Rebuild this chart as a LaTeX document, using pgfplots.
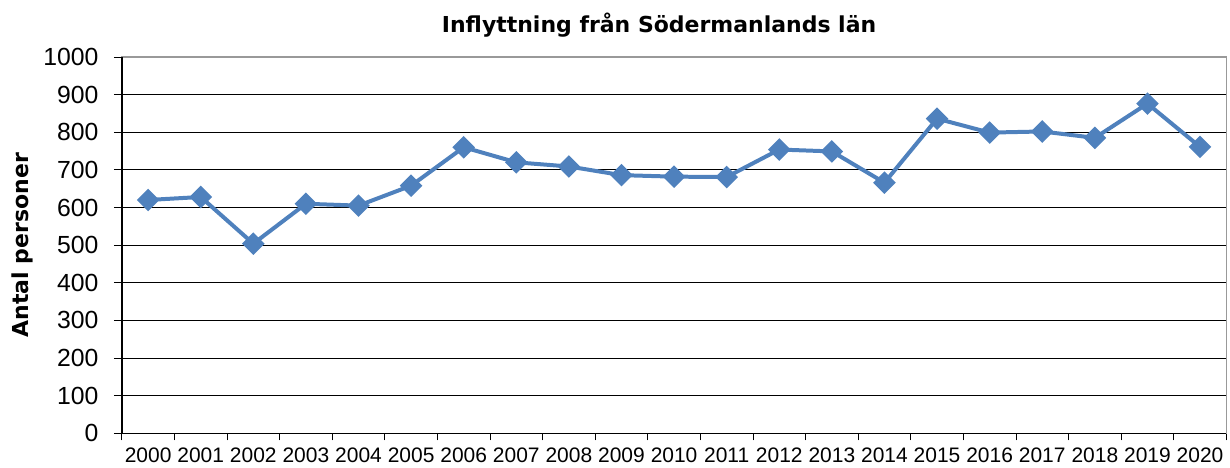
\documentclass[border=0pt]{standalone}
\usepackage{pgfplots}
\pgfplotsset{compat=1.18}
\usepackage{fontspec}
\setmainfont{Liberation Sans}
\newfontfamily\titlefont{DejaVu Sans}
\definecolor{exblue}{RGB}{79,129,189}
\begin{document}
\begin{tikzpicture}
\begin{axis}[
  scale only axis,
  width=553pt, height=188.5pt,
  xmin=-0.5, xmax=20.5,
  ymin=0, ymax=1000,
  ytick={0,100,...,1000},
  xtick={0,...,20},
  xticklabels={2000,2001,2002,2003,2004,2005,2006,2007,2008,2009,2010,2011,2012,2013,2014,2015,2016,2017,2018,2019,2020},
  minor xtick={-0.5,0.5,...,20.5},
  major x tick style={draw=none},
  minor x tick style={black, thin},
  minor tick length=3.5pt,
  ytick style={black, thin},
  major tick length=4pt,
  tick align=outside,
  xtick pos=bottom, ytick pos=left,
  ymajorgrids,
  grid style={black, line width=0.6pt},
  axis line style={gray!80, line width=0.8pt},
  /pgf/number format/assume math mode=true,
  /pgf/number format/1000 sep={},
  yticklabel style={font=\fontsize{12.4}{14}\selectfont, xshift=-4.2pt},
  xticklabel style={font=\fontsize{10.5}{12}\selectfont, inner ysep=0pt, yshift=-3pt},
  ylabel={\titlefont\bfseries Antal personer},
  ylabel style={font=\fontsize{11}{13}\selectfont, at={(axis description cs:-0.0904,0.5)}, anchor=center},
  title={\titlefont\bfseries Inflyttning från Södermanlands län},
  title style={font=\fontsize{11}{13}\selectfont, at={(axis description cs:0.4864,1)}, anchor=base, yshift=6.2pt},
  clip=false,
]
\addplot[color=exblue, line width=2pt, mark=square*, mark size=3pt,
  mark options={rotate=45, solid, fill=exblue}]
  coordinates {
  (0,620) (1,628) (2,504) (3,610) (4,605) (5,658) (6,760) (7,720)
  (8,709) (9,686) (10,682) (11,681) (12,754) (13,749) (14,666)
  (15,836) (16,799) (17,802) (18,785) (19,876) (20,761)
  };
\draw[black, line width=0.8pt] (rel axis cs:0,1) -- (rel axis cs:0,0) -- (rel axis cs:1,0);
\end{axis}
\path ([xshift=-61pt,yshift=-17pt]current axis.south west) rectangle ([xshift=1pt,yshift=28.5pt]current axis.north east);
\end{tikzpicture}
\end{document}
